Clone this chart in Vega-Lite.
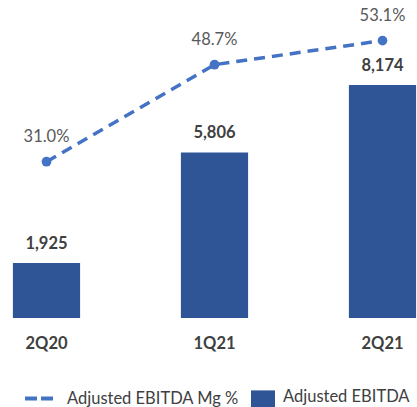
{
  "$schema": "https://vega.github.io/schema/vega-lite/v6.json",
  "width": 417,
  "height": 318,
  "padding": 0,
  "background": "white",
  "config": {"view": {"stroke": null}, "font": "Lato"},
  "data": {"values": [
    {"quarter": "2Q20", "ebitda": 1925, "margin": 31.0, "ebitda_label": "1,925", "margin_label": "31.0%"},
    {"quarter": "1Q21", "ebitda": 5806, "margin": 48.7, "ebitda_label": "5,806", "margin_label": "48.7%"},
    {"quarter": "2Q21", "ebitda": 8174, "margin": 53.1, "ebitda_label": "8,174", "margin_label": "53.1%"}
  ]},
  "encoding": {
    "x": {
      "field": "quarter", "type": "nominal", "sort": null,
      "scale": {"range": [-37.5, 466.5], "paddingInner": 0.6, "paddingOuter": 0.3},
      "axis": {"title": null, "domain": false, "ticks": false, "tickSize": 0, "grid": false, "labelAngle": 0,
               "labelFont": "Lato", "labelFontSize": 16.5, "labelFontWeight": "bold", "labelColor": "#404040", "labelPadding": 17.5}
    }
  },
  "layer": [
    {
      "encoding": {"y": {"field": "ebitda", "type": "quantitative", "scale": {"domain": [0, 11150]}, "axis": null}},
      "layer": [
        {
          "mark": {"type": "bar"},
          "encoding": {
            "fill": {"datum": "Adjusted EBITDA", "type": "nominal", "scale": {"range": ["#2F5597"]},
                     "legend": {"title": null, "orient": "none", "legendX": 251, "legendY": 385, "padding": 0,
                                "symbolType": "M-1,-0.55H1V0.85H-1Z", "symbolSize": 576, "symbolStrokeWidth": 0,
                                "labelFont": "Lato", "labelFontSize": 16.5, "labelColor": "#404040", "labelOffset": 8, "labelLimit": 300}}
          }
        },
        {
          "mark": {"type": "text", "dy": -19, "font": "Lato", "fontSize": 16.5, "fontWeight": "bold", "color": "#404040"},
          "encoding": {"text": {"field": "ebitda_label"}}
        }
      ]
    },
    {
      "encoding": {"y": {"field": "margin", "type": "quantitative", "scale": {"domain": [2.5, 60.5], "zero": false}, "axis": null}},
      "layer": [
        {
          "mark": {"type": "line", "strokeDash": [11, 7], "strokeWidth": 3.5},
          "encoding": {
            "stroke": {"datum": "Adjusted EBITDA Mg %", "type": "nominal", "scale": {"range": ["#4472C4"]},
                       "legend": {"title": null, "orient": "none", "legendX": 23, "legendY": 382, "padding": 0,
                                  "symbolType": "stroke", "symbolSize": 841, "symbolStrokeWidth": 4, "symbolDash": [12, 4],
                                  "labelFont": "Lato", "labelFontSize": 16.5, "labelColor": "#404040", "labelOffset": 11, "labelLimit": 300}}
          }
        },
        {
          "mark": {"type": "point", "filled": true, "size": 95, "color": "#4472C4", "opacity": 1}
        },
        {
          "mark": {"type": "text", "dy": -25, "font": "Lato", "fontSize": 16.5, "color": "#595959"},
          "encoding": {"text": {"field": "margin_label"}}
        }
      ]
    }
  ],
  "resolve": {"scale": {"y": "independent", "fill": "independent", "stroke": "independent"}}
}
